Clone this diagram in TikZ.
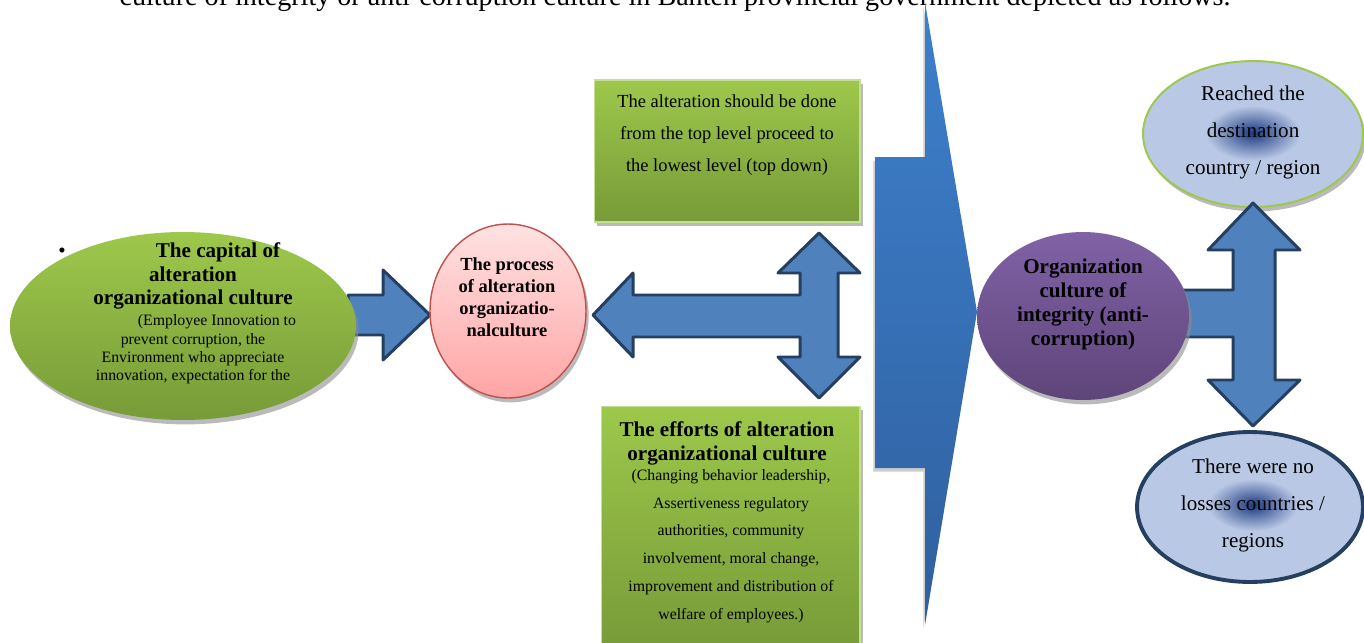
\documentclass[tikz,border=0pt]{standalone}
\usepackage{fontspec}
\setmainfont{Liberation Serif}
\usepackage{xcolor}
\usetikzlibrary{shapes.geometric,shadows}
\definecolor{leafhi}{HTML}{9DC84B}
\definecolor{leaflo}{HTML}{779B38}
\definecolor{arrowfill}{HTML}{4F81BD}
\definecolor{arrowedge}{HTML}{243F60}
\definecolor{pinkhi}{HTML}{FFE2E2}
\definecolor{pinklo}{HTML}{FFA5A5}
\definecolor{pinkedge}{HTML}{C0504D}
\definecolor{plumhi}{HTML}{8062A6}
\definecolor{plumlo}{HTML}{5E4579}
\definecolor{skyfill}{HTML}{B9C8E5}
\definecolor{skyglow}{HTML}{1C3A80}
\definecolor{chevhi}{HTML}{3E80CC}
\definecolor{chevlo}{HTML}{2F609F}

\tikzset{
 blockarrow/.style={fill=arrowfill, draw=arrowedge, line width=1.7pt, line join=round},
 oval/.style={ellipse, inner sep=0pt},
 greenfill/.style={top color=leafhi, bottom color=leaflo},
 softshadow/.style={drop shadow={shadow xshift=1.5pt, shadow yshift=-2.5pt, fill=black!45, opacity=0.6}},
 boldtxt/.style={font=\fontsize{12}{13.6}\selectfont\bfseries, align=center, inner sep=0pt},
 plaintxt/.style={font=\fontsize{9}{10.5}\selectfont, align=center, inner sep=0pt},
}

\begin{document}
\begin{tikzpicture}[x=0.02cm,y=-0.02cm]
\useasboundingbox (0,0) rectangle (1364,642);
\node (heading) [anchor=base, font=\fontsize{16}{18}\selectfont] at (675,5.5) {culture of integrity or anti-corruption culture in Banten provincial government depicted as follows.};

% arrows lying under the ovals
\draw[blockarrow] (430,315) -- ++(-47,-45) -- ++(0,25) -- ++(-35,0) -- ++(0,40) -- ++(35,0) -- ++(0,25) -- cycle;
\draw[blockarrow] (593,315) -- (633,273) -- (633,295) -- (800,295) -- (800,273) -- (778,273) -- (819,233)
  -- (860,273) -- (838,273) -- (838,357) -- (860,357) -- (819,398) -- (778,357) -- (800,357)
  -- (800,337) -- (633,337) -- (633,357) -- cycle;

% left and middle ovals
\node (capital) [oval, greenfill, softshadow, minimum width=6.92cm, minimum height=3.76cm] at (183,326) {};
\node (bullet) [font=\fontsize{12}{14}\selectfont, inner sep=0pt] at (62,253) {\textbullet};
\node (capitalhead) [boldtxt] at (193,276) {\hspace*{1cm}The capital of\\alteration\\organizational culture};
\node (capitalbody) [plaintxt] at (193,349.5) {\hspace*{0.96cm}(Employee Innovation to\\prevent corruption, the\\Environment who appreciate\\innovation, expectation for the};

\node (process) [oval, top color=pinkhi, bottom color=pinklo, draw=pinkedge, line width=0.8pt, softshadow, minimum width=3.12cm, minimum height=3.48cm] at (508,311) {};
\node (processtxt) [boldtxt, font=\fontsize{10.5}{12.5}\selectfont\bfseries] at (507,297) {The process\\of alteration\\organizatio-\\nalculture};

% green boxes
\node (topdown) [rectangle, greenfill, draw=leafhi!60, line width=0.6pt, softshadow, minimum width=5.32cm, minimum height=2.84cm] at (727,151) {};
\node (topdowntxt) [align=center, inner sep=0pt, font=\fontsize{10.5}{18}\selectfont] at (727,135) {The alteration should be done\\from the top level proceed to\\the lowest level (top down)};

\node (efforts) [rectangle, greenfill, draw=leafhi!60, line width=0.6pt, softshadow, minimum width=5.18cm, minimum height=4.88cm] at (730.5,528) {};
\node (effortshead) [boldtxt] at (727,443) {The efforts of alteration\\organizational culture};
\node (effortsbody) [plaintxt, font=\fontsize{9}{15.8}\selectfont] at (731,546) {(Changing behavior leadership,\\Assertiveness regulatory\\authorities, community\\involvement, moral change,\\improvement and distribution of\\welfare of employees.)};

% big chevron
\shade[top color=chevhi, bottom color=chevlo, drop shadow={shadow xshift=-1pt, shadow yshift=-2pt, fill=black!40, opacity=0.5}]
  (875,157) -- (925,157) -- (925,2) -- (977,312) -- (925,625) -- (925,468) -- (875,468) -- cycle;

% outcome ovals
\node (reached) [oval, fill=skyfill, draw=leafhi, line width=1.1pt, softshadow, minimum width=4.4cm, minimum height=2.92cm] at (1253,134) {};
\shade[inner color=skyglow, outer color=skyfill] (1253,133) ellipse [x radius=0.95cm, y radius=0.55cm];
\node (reachedtxt) [align=center, inner sep=0pt, font=\fontsize{12}{21.3}\selectfont] at (1253,132.5) {Reached the\\destination\\country / region};

\node (nolosses) [oval, fill=skyfill, draw=arrowedge, line width=2.2pt, minimum width=4.52cm, minimum height=3cm] at (1250,507) {};
\shade[inner color=skyglow, outer color=skyfill] (1253,505) ellipse [x radius=0.9cm, y radius=0.52cm];
\node (nolossestxt) [align=center, inner sep=0pt, font=\fontsize{12}{21.3}\selectfont] at (1253,505.5) {There were no\\losses countries /\\regions};

\draw[blockarrow] (1170,290) -- (1233,290) -- (1233,250) -- (1208,250) -- (1253,203) -- (1300,250) -- (1275,250)
  -- (1275,380) -- (1300,380) -- (1253,426) -- (1208,380) -- (1233,380) -- (1233,337) -- (1170,337) -- cycle;

\node (integrity) [oval, top color=plumhi, bottom color=plumlo, softshadow, minimum width=4.24cm, minimum height=3.36cm] at (1083,316) {};
\node (integritytxt) [boldtxt] at (1083,304.5) {Organization\\culture of\\integrity (anti-\\corruption)};
\end{tikzpicture}
\end{document}
